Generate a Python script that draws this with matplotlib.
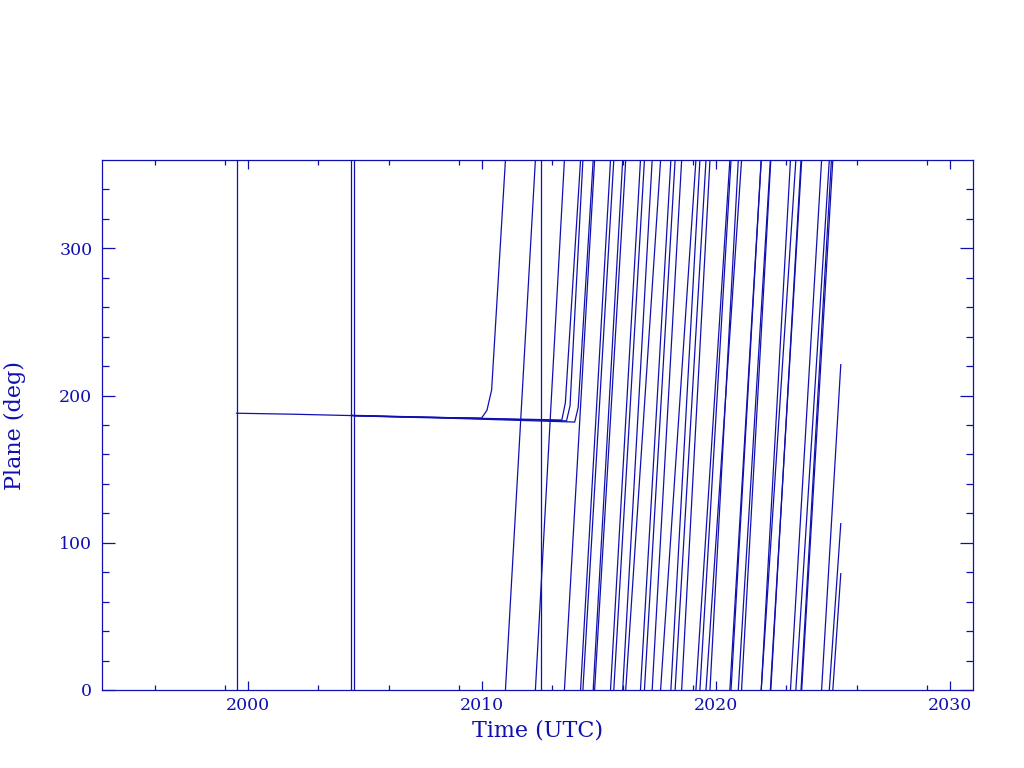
import numpy as np
import matplotlib
matplotlib.use('Agg')
from matplotlib import pyplot as plt

BLUE = '#1010b0'

# flat part of each track before the drift starts (year, deg)
a_flat_t = [1999.50, 2002.0, 2004.4, 2006.5, 2009.97]
a_flat_a = [188.0, 187.3, 186.4, 185.5, 184.7]
b_flat_t = [2004.40, 2008.5, 2013.40]
b_flat_a = [186.6, 185.0, 183.4]
c_flat_t = [2004.53, 2009.0, 2013.95]
c_flat_a = [186.2, 184.4, 182.0]
d_flat_t = [2004.45, 2008.8, 2013.60]
d_flat_a = [186.4, 184.8, 182.8]

# bend points while the plane starts to drift
a_rise_t = [2010.20, 2010.40]
a_rise_a = [190.0, 203.8]
b_rise_t = [2013.55]
b_rise_a = [195.0]
c_rise_t = [2014.10]
c_rise_a = [192.0]
d_rise_t = [2013.75]
d_rise_a = [193.0]

# times where the plane wraps from 360 back to 0
a_wraps = [2010.99, 2012.27, 2013.51, 2014.80, 2016.13, 2017.62, 2019.13,
           2020.58, 2021.92, 2023.40, 2024.83]
b_wraps = [2014.20, 2015.48, 2016.76, 2018.06, 2019.30, 2020.63, 2021.92,
           2023.17, 2024.50]
c_wraps = [2014.74, 2016.00, 2017.26, 2018.52, 2019.73, 2020.94, 2022.31,
           2023.65, 2024.98]
d_wraps = [2014.30, 2015.62, 2016.93, 2018.24, 2019.56, 2021.08, 2022.33,
           2023.62, 2024.92]

# last data point of each track (None = ends at a wrap)
a_end = (2025.32, 113.0)
b_end = (2025.32, 221.0)
c_end = (2025.32, 79.0)
d_end = None

# full-height jumps
jump_times = [1999.50, 2004.38, 2004.53, 2012.52]

x_major = [2000, 2010, 2020, 2030]
x_minor = [1996, 1999, 2003, 2006, 2009, 2013, 2016, 2019, 2023, 2026, 2029]
y_major = [0, 100, 200, 300]
y_minor = [v for v in range(20, 360, 20) if v % 100 != 0]


def build_track(flat_t, flat_a, rise_t, rise_a, wraps, end):
    xs = list(flat_t) + list(rise_t) + [wraps[0]]
    ys = list(flat_a) + list(rise_a) + [360.0]
    for w0, w1 in zip(wraps[:-1], wraps[1:]):
        xs += [np.nan, w0, w1]
        ys += [np.nan, 0.0, 360.0]
    if end is not None:
        xs += [np.nan, wraps[-1], end[0]]
        ys += [np.nan, 0.0, end[1]]
    return xs, ys


plt.rcParams['font.family'] = 'DejaVu Serif'
fig = plt.figure(figsize=(10.24, 7.68), dpi=100)
ax = fig.add_axes([102 / 1024, 78 / 768, 871 / 1024, 530 / 768])

tracks = [
    (a_flat_t, a_flat_a, a_rise_t, a_rise_a, a_wraps, a_end),
    (b_flat_t, b_flat_a, b_rise_t, b_rise_a, b_wraps, b_end),
    (c_flat_t, c_flat_a, c_rise_t, c_rise_a, c_wraps, c_end),
    (d_flat_t, d_flat_a, d_rise_t, d_rise_a, d_wraps, d_end),
]
for tr in tracks:
    xs, ys = build_track(*tr)
    ax.plot(xs, ys, color=BLUE, lw=0.9)

for t in jump_times:
    ax.plot([t, t], [0, 360], color=BLUE, lw=0.9)

ax.set_xlim(1993.75, 2030.97)
ax.set_ylim(0, 360)

ax.set_xticks(x_major)
ax.set_xticks(x_minor, minor=True)
ax.set_yticks(y_major)
ax.set_yticks(y_minor, minor=True)

ax.tick_params(which='both', direction='in', top=True, right=True,
               colors=BLUE, labelsize=12.5, width=0.9)
ax.tick_params(axis='x', which='major', length=6.5, pad=5)
ax.tick_params(axis='x', which='minor', length=3.5)
ax.tick_params(axis='y', which='major', length=9.5, pad=7)
ax.tick_params(axis='y', which='minor', length=5)

for sp in ax.spines.values():
    sp.set_color(BLUE)
    sp.set_linewidth(0.9)

ax.set_xlabel('Time (UTC)', fontsize=16, color=BLUE, va='center')
ax.set_ylabel('Plane (deg)', fontsize=16, color=BLUE, va='center')
ax.xaxis.set_label_coords(0.5, (690 - 731) / 530)
ax.yaxis.set_label_coords((15 - 102) / 871, 0.5)

fig.savefig('out.png', dpi=100)
